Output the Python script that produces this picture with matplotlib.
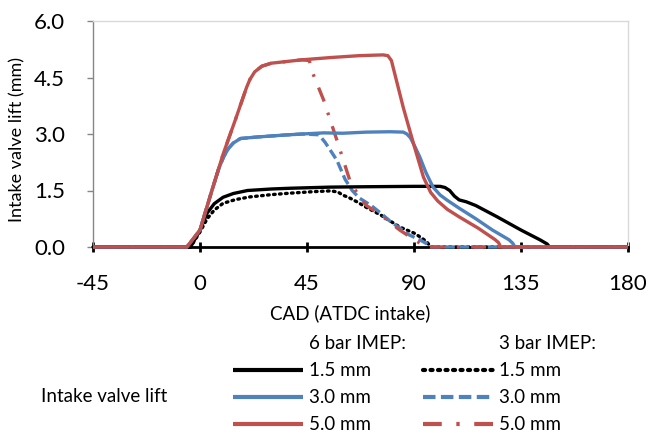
import matplotlib
matplotlib.use("Agg")
import matplotlib.pyplot as plt
from matplotlib.lines import Line2D

plt.rcParams['font.family'] = ['Lato', 'DejaVu Sans']

# ---- data (CAD ATDC intake, lift in mm) ----
x_b6 = [-45, -4, 0, 3, 6, 9.7, 14, 20, 30, 38, 55, 70, 90, 101, 103, 105, 107, 109, 112, 116, 125, 135, 143, 146, 147, 180]
y_b6 = [0, 0, 0.45, 0.9, 1.15, 1.32, 1.42, 1.5, 1.54, 1.56, 1.59, 1.6, 1.61, 1.61, 1.58, 1.5, 1.35, 1.25, 1.2, 1.1, 0.8, 0.45, 0.19, 0.08, 0, 0]

x_u6 = [-45, -5.5, 0, 5, 8, 10, 12, 14, 17, 24, 35, 43, 52, 60, 70, 80, 85.5, 87, 88.5, 90.5, 92.5, 95, 98, 101, 104, 109, 116, 123, 130, 131.5, 132.5, 180]
y_u6 = [0, 0, 0.45, 1.5, 2.1, 2.4, 2.62, 2.76, 2.88, 2.92, 2.97, 3.0, 3.03, 3.02, 3.05, 3.06, 3.05, 3.0, 2.9, 2.65, 2.38, 1.98, 1.59, 1.38, 1.24, 1.03, 0.75, 0.45, 0.19, 0.1, 0, 0]

x_r6 = [-45, -5.5, 0, 5, 9.8, 15, 19.6, 21, 23, 26, 30, 43, 55, 67, 77, 79, 80.5, 85.5, 90, 94, 97, 100, 104, 109, 117, 124, 125.5, 126.5, 180]
y_r6 = [0, 0, 0.45, 1.5, 2.48, 3.4, 4.24, 4.45, 4.65, 4.8, 4.88, 4.97, 5.03, 5.08, 5.1, 5.08, 4.95, 3.7, 2.7, 1.85, 1.45, 1.22, 1.0, 0.8, 0.5, 0.2, 0.12, 0, 0]

x_b3 = [-45, -4, 0, 3, 6, 9.7, 15, 21, 30, 38, 48, 55, 58, 60, 63, 66, 70, 76, 84, 90, 93, 95.5, 97, 180]
y_b3 = [0, 0, 0.4, 0.75, 0.98, 1.16, 1.26, 1.33, 1.39, 1.43, 1.47, 1.49, 1.46, 1.38, 1.3, 1.2, 1.05, 0.85, 0.53, 0.37, 0.25, 0.13, 0, 0]

x_u3 = [-45, -5.5, 0, 5, 8, 10, 12, 14, 17, 24, 35, 43, 50, 52.6, 55, 57.6, 61, 64, 67, 72, 76, 80, 84, 88, 92.5, 95.5, 97, 180]
y_u3 = [0, 0, 0.45, 1.5, 2.1, 2.4, 2.62, 2.76, 2.88, 2.92, 2.97, 3.0, 2.98, 2.78, 2.55, 2.3, 1.8, 1.5, 1.3, 1.1, 0.9, 0.68, 0.5, 0.32, 0.19, 0.08, 0, 0]

x_r3 = [-45, -5.5, 0, 5, 9.8, 15, 19.6, 21, 23, 26, 30, 43, 46, 47, 52, 57.6, 63, 67, 70, 76, 84, 90, 93, 95, 180]
y_r3 = [0, 0, 0.45, 1.5, 2.48, 3.4, 4.24, 4.45, 4.65, 4.8, 4.88, 4.97, 4.95, 4.68, 3.9, 2.83, 1.77, 1.33, 1.1, 0.85, 0.45, 0.2, 0.08, 0, 0]

x_ticks = [-45, 0, 45, 90, 135, 180]
y_ticks = [0.0, 1.5, 3.0, 4.5, 6.0]

BLACK = '#000000'
BLUE = '#4F81BD'
RED = '#C0504D'

fig = plt.figure(figsize=(6.49, 4.33), dpi=100)
ax = fig.add_axes([93/649, 1-247/433, (628-93)/649, (247-21)/433])

lw = 2.4
kw = dict(clip_on=False, zorder=3, solid_capstyle='butt')
l_b3, = ax.plot(x_b3, y_b3, color=BLACK, lw=lw, linestyle=(0, (0.5, 1.3)), dash_capstyle='round', clip_on=False, zorder=3)
l_u3, = ax.plot(x_u3, y_u3, color=BLUE, lw=lw, linestyle=(0, (3, 1.3)), clip_on=False, zorder=3)
l_r3, = ax.plot(x_r3, y_r3, color=RED, lw=lw, linestyle=(0, (4.5, 3.5, 0.8, 3.5)), clip_on=False, zorder=3)
l_b6, = ax.plot(x_b6, y_b6, color=BLACK, lw=lw, **kw)
l_u6, = ax.plot(x_u6, y_u6, color=BLUE, lw=lw, **kw)
l_r6, = ax.plot(x_r6, y_r6, color=RED, lw=lw, **kw)

ax.set_xlim(-45, 180)
ax.set_ylim(0, 6)
ax.set_xticks(x_ticks)
ax.set_xticklabels([str(v) for v in x_ticks])
ax.set_yticks(y_ticks)
ax.set_yticklabels([f"{v:.1f}" for v in y_ticks])

for s in ['top', 'right']:
    ax.spines[s].set_color('#D9D9D9')
    ax.spines[s].set_linewidth(1.0)
ax.spines['left'].set_color('#868686')
ax.spines['left'].set_linewidth(1.0)
ax.spines['bottom'].set_color('#000000')
ax.spines['bottom'].set_linewidth(2.0)

ax.tick_params(axis='x', direction='inout', length=7, width=2, color='black', pad=16, labelsize=16)
ax.tick_params(axis='y', direction='out', length=4, width=1, color='#868686', pad=16, labelsize=16)

fig.text(17/649, 1-139/433, 'Intake valve lift (mm)', rotation=90, ha='center', va='center', fontsize=13)
fig.text(350/649, 1-313/433, 'CAD (ATDC intake)', ha='center', va='center', fontsize=13.5)

blank = Line2D([], [], color='none')
handles = [blank, l_b6, l_u6, l_r6, blank, l_b3, l_u3, l_r3]
labels = ['6 bar IMEP:', '1.5 mm', '3.0 mm', '5.0 mm', '3 bar IMEP:', '1.5 mm', '3.0 mm', '5.0 mm']
leg = fig.legend(handles, labels, ncol=2, frameon=False, loc='upper left',
                 bbox_to_anchor=(233/649, 1-335/433), borderaxespad=0, borderpad=0,
                 handlelength=3.73, handletextpad=0.3, columnspacing=0.95, labelspacing=0.54,
                 fontsize=13.5)
for h in leg.legend_handles:
    h.set_linewidth(3.0)
fig.text(41/649, 1-397/433, 'Intake valve lift', ha='left', va='center', fontsize=13.5)

fig.savefig('out.png', dpi=100)
